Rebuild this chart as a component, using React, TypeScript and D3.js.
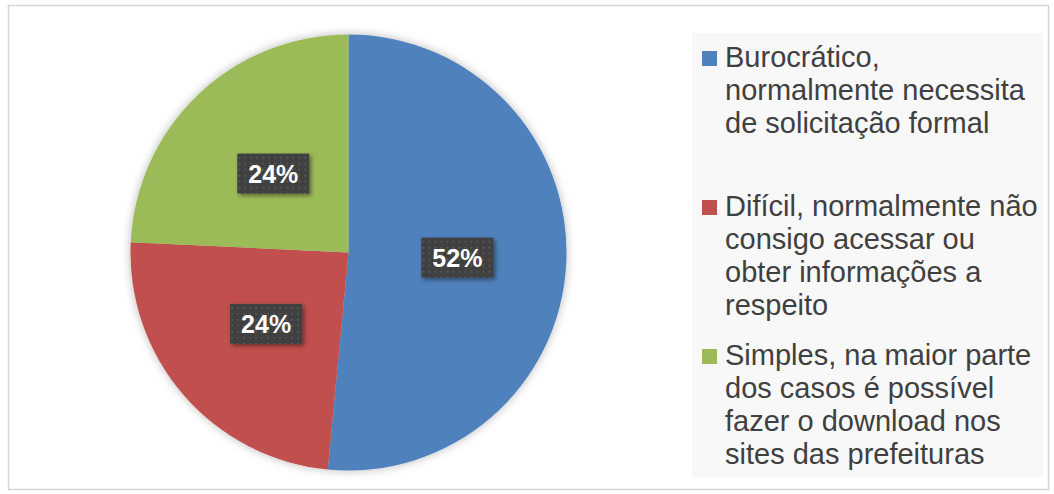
import React from "react";
import * as d3 from "d3";

const categories = [
  "Burocrático, normalmente necessita de solicitação formal",
  "Difícil, normalmente não consigo acessar ou obter informações a respeito",
  "Simples, na maior parte dos casos é possível fazer o download nos sites das prefeituras",
];
const legendLines = [
  ["Burocrático,", "normalmente necessita", "de solicitação formal"],
  ["Difícil, normalmente não", "consigo acessar ou", "obter informações a", "respeito"],
  ["Simples, na maior parte", "dos casos é possível", "fazer o download nos", "sites das prefeituras"],
];
const values = [17, 8, 8];
const colors = ["#4f81bd", "#c0504d", "#9bbb59"];

const W = 1054;
const H = 494;
const CX = 348.5;
const CY = 252.5;
const R = 218;
const LEGEND_FIRST_BASELINES = [67, 216, 365];
const LINE_H = 33;

export default function App() {
  const total = d3.sum(values);
  const pie = d3
    .pie<number>()
    .sort(null)
    .value((d) => d)
    .startAngle(0)
    .endAngle(2 * Math.PI);
  const arcs = pie(values);
  const arcGen = d3.arc<d3.PieArcDatum<number>>().innerRadius(0).outerRadius(R);
  const labelArc = d3.arc<d3.PieArcDatum<number>>().innerRadius(R * 0.5).outerRadius(R * 0.5);
  const fmt = (v: number) => `${Math.round((v / total) * 100)}%`;

  return (
    <svg
      width={W}
      height={H}
      style={{ position: "absolute", left: 0, top: 0, background: "#ffffff" }}
      fontFamily="'Liberation Sans', Arial, sans-serif"
    >
      <defs>
        <filter id="pieShadow" x="-20%" y="-20%" width="140%" height="140%">
          <feDropShadow dx="0" dy="0" stdDeviation="5" floodColor="#000" floodOpacity="0.28" />
        </filter>
        <filter id="boxShadow" x="-30%" y="-30%" width="160%" height="160%">
          <feDropShadow dx="2" dy="2" stdDeviation="2" floodColor="#000" floodOpacity="0.45" />
        </filter>
        <pattern id="dots" width="6" height="6" patternUnits="userSpaceOnUse">
          <rect width="6" height="6" fill="#3f3f3f" />
          <rect x="1" y="1" width="2" height="2" fill="#555555" />
        </pattern>
      </defs>
      <rect x={8.5} y={5.5} width={1040} height={484} fill="#ffffff" stroke="#d4d4d4" strokeWidth={1.5} />
      <rect x={692} y={33} width={351} height={445} fill="#f8f8f8" />

      <g transform={`translate(${CX},${CY})`}>
        <g filter="url(#pieShadow)">
          {arcs.map((a, i) => (
            <path key={i} d={arcGen(a) || ""} fill={colors[i]} />
          ))}
        </g>
        {arcs.map((a, i) => {
          const [lx, ly] = labelArc.centroid(a);
          const bw = 72;
          const bh = 40;
          return (
            <g key={"l" + i} transform={`translate(${lx},${ly})`}>
              <rect
                x={-bw / 2}
                y={-bh / 2}
                width={bw}
                height={bh}
                fill="url(#dots)"
                filter="url(#boxShadow)"
              />
              <text
                x={0}
                y={9}
                textAnchor="middle"
                fill="#ffffff"
                fontWeight="bold"
                fontSize={25}
              >
                {fmt(a.data)}
              </text>
            </g>
          );
        })}
      </g>

      {categories.map((c, i) => {
        const base = LEGEND_FIRST_BASELINES[i];
        return (
          <g key={"lg" + i}>
            <title>{c}</title>
            <rect x={702} y={base - 16} width={15} height={15} fill={colors[i]} />
            {legendLines[i].map((line, j) => (
              <text key={j} x={725} y={base + j * LINE_H} fontSize={29} fill="#404040">
                {line}
              </text>
            ))}
          </g>
        );
      })}
    </svg>
  );
}
